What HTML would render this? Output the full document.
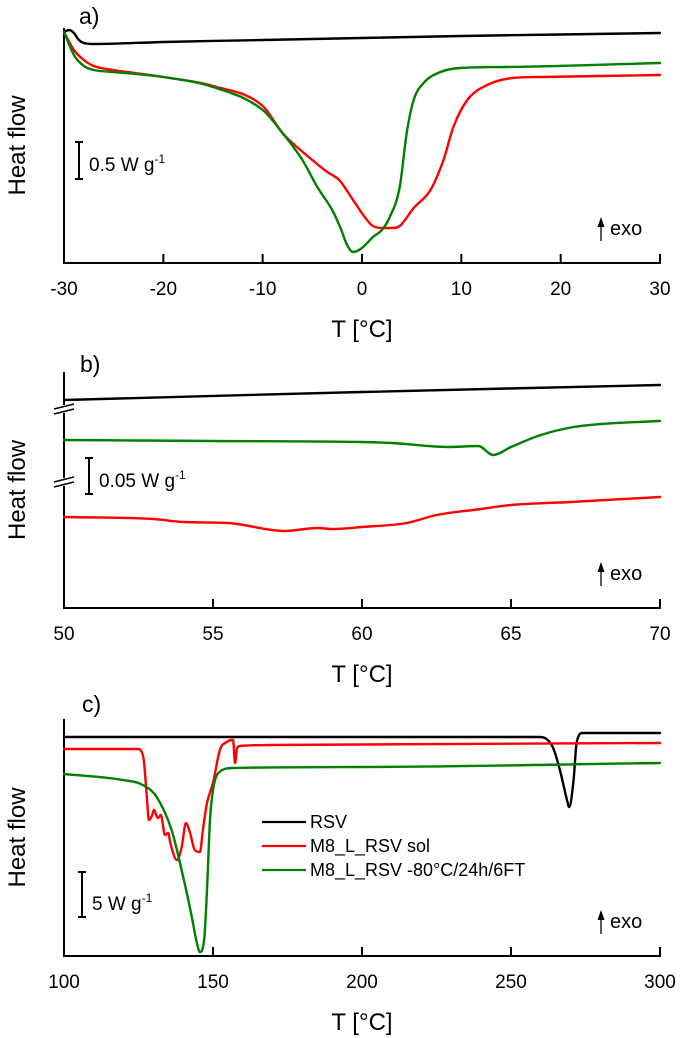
<!DOCTYPE html>
<html><head><meta charset="utf-8">
<style>
html,body{margin:0;padding:0;background:#fff;}
svg{display:block;font-family:"Liberation Sans",Arial,sans-serif;}
</style></head>
<body>
<svg id="chart" width="680" height="1038" viewBox="0 0 680 1038" xmlns="http://www.w3.org/2000/svg"></svg>
<script>
// ---------- Panel a data (T in °C, heat flow in a.u.) ----------
const aBlackT=[-30,-29.5,-29,-28.5,-28,-27,-20,-10,0,10,20,30];
const aBlackV=[231,233,230,223,220,219,221,223,225,227,228.5,230];
const aRedT=[-30,-29,-28,-27,-25,-20,-15,-10,-8,-5,-3.5,-2.3,-0.9,0.5,1.1,2,3,3.8,5.2,6.9,8.2,9.2,10.6,12.6,15.2,18,30];
const aRedV=[231,213,203,197,193,186,177,157,130,103,91,83,63,43,37,35,35,37,55,73,103,136,163,178,185,186,188];
const aGreenT=[-30,-29,-28,-27,-25,-20,-15,-10,-8,-6,-4.5,-3,-2.2,-1.5,-0.9,0,1.1,2,2.8,3.8,4.5,5.2,6.2,7.9,9.9,14.6,30];
const aGreenV=[231,208,197,193,191,186,176,153,130,103,76,53,36,18,11,15,26,33,46,76,130,163,180,191,195,196,200];
const aTicks=[-30,-20,-10,0,10,20,30];
// ---------- Panel b data ----------
const bBlackT=[50,60,70];
const bBlackV=[208,216,223];
const bGreenT=[50,55,60,61,62.9,63.9,64.4,65,66,67.1,68,70];
const bGreenV=[168,167,166,165,161,162,153,161,173,181,184,187];
const bRedT=[50,53,54,55.5,57.4,58.5,59,60,61.5,62.5,64,65,67,70];
const bRedV=[91,89,86,85,77,80,79,81,85,93,99,103,106,111];
const bTicks=[50,55,60,65,70];
// ---------- Panel c data ----------
const cBlackT=[100,259.7,264,266.4,268.8,269.5,271,272,274,300];
const cBlackV=[219,219,209,186,156,149,176,213,223,223];
const cRedT=[100,124.8,126.6,127.8,128.5,129.5,130.2,131.5,132.5,133.9,135,135.6,137.9,139.5,140.9,142.3,143.9,145.6,146.6,148,150,152.3,154.6,156.7,157.4,158.1,159,170,300];
const cRedV=[207,207,199,159,136,140,146,138,141,121,123,114,96,109,133,123,106,104,126,153,173,206,214,216,193,208,210,211,213];
const cGreenT=[100,119.8,126.5,131.1,136.1,140,142.9,144.6,145.6,147,148,149,150,151.8,156.7,200,300];
const cGreenV=[182,176,171,159,126,79,39,13,4,16,66,136,166,183,188,189,193];
const cTicks=[100,150,200,250,300];
const legendLabels=["RSV","M8_L_RSV sol","M8_L_RSV -80°C/24h/6FT"];

const NS="http://www.w3.org/2000/svg";
const svg=document.getElementById('chart');
function el(tag,attrs,parent){const e=document.createElementNS(NS,tag);for(const k in attrs)e.setAttribute(k,attrs[k]);(parent||svg).appendChild(e);return e;}
function txt(s,attrs,parent){const t=el('text',attrs,parent);t.textContent=s;return t;}

// monotone cubic path (Fritsch-Carlson)
function monoPath(px,py){
  const n=px.length;if(n<3)return 'M'+px.map((x,i)=>x.toFixed(1)+','+py[i].toFixed(1)).join(' L');
  const d=[],m=[];
  for(let i=0;i<n-1;i++)d.push((py[i+1]-py[i])/(px[i+1]-px[i]));
  m[0]=d[0];m[n-1]=d[n-2];
  for(let i=1;i<n-1;i++){m[i]=(d[i-1]*d[i]<=0)?0:(d[i-1]+d[i])/2;}
  for(let i=0;i<n-1;i++){
    if(d[i]===0){m[i]=0;m[i+1]=0;continue;}
    const a=m[i]/d[i],b=m[i+1]/d[i],s=a*a+b*b;
    if(s>9){const t=3/Math.sqrt(s);m[i]=t*a*d[i];m[i+1]=t*b*d[i];}
  }
  let p='M'+px[0].toFixed(1)+','+py[0].toFixed(1);
  for(let i=0;i<n-1;i++){
    const h=(px[i+1]-px[i])/3;
    p+=' C'+(px[i]+h).toFixed(1)+','+(py[i]+m[i]*h).toFixed(1)+' '+(px[i+1]-h).toFixed(1)+','+(py[i+1]-m[i+1]*h).toFixed(1)+' '+px[i+1].toFixed(1)+','+py[i+1].toFixed(1);
  }
  return p;
}

const X0=64,X1=660;
function panel(cfg){
  const g=el('g',{});
  
  
  const xs=v=>X0+(v-cfg.xmin)/(cfg.xmax-cfg.xmin)*(X1-X0);
  const ys=v=>cfg.bottom-(v-cfg.ymin)/(cfg.ymax-cfg.ymin)*(cfg.bottom-cfg.top);
  const ya=el('line',{x1:X0,y1:cfg.top,x2:X0,y2:cfg.bottom,stroke:'#000','stroke-width':2},g);
  
  
  const xa=el('line',{x1:X0-1,y1:cfg.bottom,x2:X1+1,y2:cfg.bottom,stroke:'#000','stroke-width':2},g);
  
  
  cfg.ticks.forEach(t=>{
    const x=xs(t);
    const tk=el('line',{x1:x,y1:cfg.bottom,x2:x,y2:cfg.bottom-9,stroke:'#000','stroke-width':2},g);
    
    
    const lb=txt(String(t),{x:x,y:cfg.bottom+32,'text-anchor':'middle','font-size':19},g);
    
    
  });
  const xt=txt('T [°C]',{x:362,y:cfg.bottom+74,'text-anchor':'middle','font-size':24},g);
  
  
  const yt=txt('Heat flow',{x:0,y:0,'text-anchor':'middle','font-size':24,transform:`translate(25,${(cfg.top+cfg.bottom)/2}) rotate(-90)`},g);
  
  
  const pl=txt(cfg.label,{x:cfg.labelX,y:cfg.labelY,'font-size':23},g);
  
  
  const sb=cfg.sb;
  const sbg=el('g',{stroke:'#000','stroke-width':2},g);
  
  
  el('line',{x1:sb.x,y1:sb.y1,x2:sb.x,y2:sb.y2},sbg);
  el('line',{x1:sb.x-4,y1:sb.y1,x2:sb.x+4,y2:sb.y1},sbg);
  el('line',{x1:sb.x-4,y1:sb.y2,x2:sb.x+4,y2:sb.y2},sbg);
  const st=el('text',{x:sb.x+10,y:sb.ty,'font-size':19},g);
  
  
  st.appendChild(document.createTextNode(sb.text+' W g'));
  const sup=el('tspan',{dy:-8,'font-size':12},st);sup.textContent='-1';
  const eg=el('g',{},g);
  
  
  const ay=cfg.bottom-26;
  el('line',{x1:601,y1:ay+4,x2:601,y2:ay-14,stroke:'#000','stroke-width':1.3},eg);
  el('polygon',{points:`597.5,${ay-10} 604.5,${ay-10} 601,${ay-20}`,fill:'#000'},eg);
  txt('exo',{x:610,y:ay-2,'font-size':20},eg);
  cfg.series.forEach(s=>{
    const px=s.t.map(xs),py=s.v.map(ys);
    const p=el('path',{d:monoPath(px,py),fill:'none',stroke:s.color,'stroke-width':2.4,'stroke-linejoin':'round','stroke-linecap':'round'},g);
    
    
  });
  return g;
}

panel({name:'panel-a',xmin:-30,xmax:30,ymin:0,ymax:235,top:28,bottom:263,ticks:aTicks,label:'a)',labelX:79,labelY:24,
  sb:{x:79,y1:142,y2:179,ty:171,text:'0.5'},
  series:[{name:'rsv-line-a',t:aBlackT,v:aBlackV,color:'#000'},{name:'sol-line-a',t:aRedT,v:aRedV,color:'#ff0000'},{name:'frozen-line-a',t:aGreenT,v:aGreenV,color:'#008000'}]});

const pb=panel({name:'panel-b',xmin:50,xmax:70,ymin:0,ymax:236,top:372,bottom:608,ticks:bTicks,label:'b)',labelX:80,labelY:372,
  sb:{x:89,y1:458,y2:494,ty:487,text:'0.05'},
  series:[{name:'rsv-line-b',t:bBlackT,v:bBlackV,color:'#000'},{name:'frozen-line-b',t:bGreenT,v:bGreenV,color:'#008000'},{name:'sol-line-b',t:bRedT,v:bRedV,color:'#ff0000'}]});
[410,483].forEach(y=>{
  const bg=el('g',{stroke:'#000','stroke-width':1.6},pb);
  
  
  el('rect',{x:55,y:y-5,width:18,height:8,fill:'#fff',stroke:'none'},bg);
  el('line',{x1:54,y1:y-1,x2:74,y2:y-6},bg);
  el('line',{x1:54,y1:y+4,x2:74,y2:y-1},bg);
});

const pc=panel({name:'panel-c',xmin:100,xmax:300,ymin:0,ymax:237,top:719,bottom:956,ticks:cTicks,label:'c)',labelX:82,labelY:712,
  sb:{x:82,y1:872,y2:917,ty:910,text:'5'},
  series:[{name:'rsv-line-c',t:cBlackT,v:cBlackV,color:'#000'},{name:'sol-line-c',t:cRedT,v:cRedV,color:'#ff0000'},{name:'frozen-line-c',t:cGreenT,v:cGreenV,color:'#008000'}]});
const lg=el('g',{},pc);


const lcolors=['#000','#ff0000','#008000'];
const ly=[822,846,870];
legendLabels.forEach((s,i)=>{
  const e=el('g',{},lg);
  
  
  el('line',{x1:262,y1:ly[i],x2:306,y2:ly[i],stroke:lcolors[i],'stroke-width':2.3},e);
  txt(s,{x:310,y:ly[i]+6,'font-size':18},e);
});
</script>
</body></html>
